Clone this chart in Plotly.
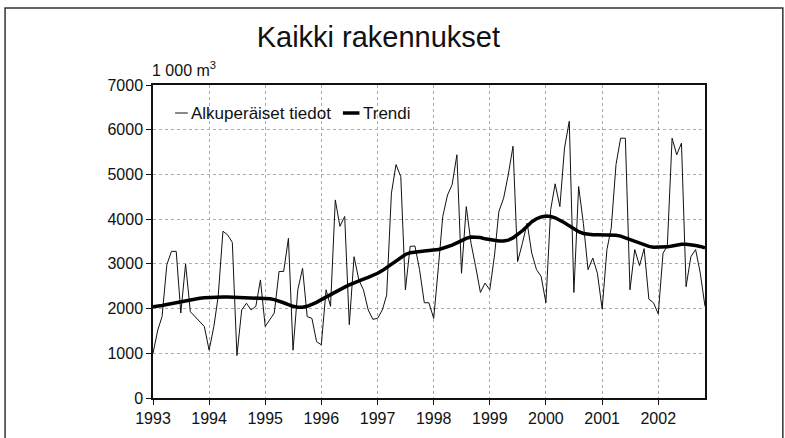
import pandas as pd
import plotly.graph_objects as go

years = [1993, 1994, 1995, 1996, 1997, 1998, 1999, 2000, 2001, 2002]

original_1993 = [1000, 1520, 1820, 2980, 3280, 3280, 1900, 3000, 1930, 1820, 1710, 1600]
original_1994 = [1070, 1600, 2270, 3730, 3650, 3480, 950, 1970, 2120, 1970, 2050, 2640]
original_1995 = [1600, 1750, 1900, 2830, 2830, 3570, 1070, 2420, 2900, 1820, 1780, 1260]
original_1996 = [1190, 2420, 2050, 4430, 3840, 4060, 1640, 3160, 2640, 2420, 1970, 1760]
original_1997 = [1780, 1970, 2300, 4580, 5220, 4950, 2420, 3390, 3400, 2870, 2130, 2130]
original_1998 = [1780, 2940, 4060, 4540, 4770, 5440, 2790, 4280, 3460, 2940, 2360, 2570]
original_1999 = [2420, 3200, 4170, 4470, 4990, 5630, 3050, 3460, 3910, 3240, 2870, 2720]
original_2000 = [2130, 4210, 4790, 4280, 5590, 6190, 2360, 4730, 3900, 2870, 3130, 2790]
original_2001 = [1990, 3320, 3800, 5220, 5810, 5810, 2420, 3320, 2960, 3340, 2210, 2130]
original_2002 = [1880, 3240, 3400, 5810, 5440, 5700, 2490, 3160, 3320, 2800, 2050]

trend_1993 = [2040, 2050, 2070, 2090, 2110, 2140, 2160, 2180, 2200, 2220, 2230, 2240]
trend_1994 = [2250, 2255, 2260, 2260, 2260, 2255, 2250, 2250, 2250, 2250, 2245, 2240]
trend_1995 = [2230, 2220, 2200, 2170, 2130, 2090, 2050, 2030, 2030, 2050, 2090, 2140]
trend_1996 = [2200, 2260, 2320, 2380, 2430, 2480, 2530, 2580, 2620, 2660, 2700, 2740]
trend_1997 = [2790, 2850, 2920, 3000, 3080, 3150, 3210, 3250, 3270, 3280, 3290, 3300]
trend_1998 = [3310, 3320, 3350, 3380, 3420, 3470, 3520, 3570, 3600, 3600, 3590, 3560]
trend_1999 = [3540, 3520, 3510, 3510, 3530, 3580, 3650, 3740, 3840, 3940, 4010, 4050]
trend_2000 = [4070, 4060, 4030, 3980, 3920, 3850, 3780, 3720, 3680, 3660, 3650, 3650]
trend_2001 = [3650, 3650, 3650, 3640, 3620, 3580, 3540, 3500, 3460, 3420, 3390, 3370]
trend_2002 = [3370, 3370, 3380, 3400, 3420, 3440, 3440, 3430, 3410, 3390, 3360]

original = (original_1993 + original_1994 + original_1995 + original_1996 + original_1997
            + original_1998 + original_1999 + original_2000 + original_2001 + original_2002)
trend = (trend_1993 + trend_1994 + trend_1995 + trend_1996 + trend_1997
         + trend_1998 + trend_1999 + trend_2000 + trend_2001 + trend_2002)

series_names = ["Alkuperäiset tiedot", "Trendi"]

months = pd.date_range("1993-01-01", periods=len(original), freq="MS")

FONT = "Liberation Sans, Arial, Helvetica, sans-serif"

fig = go.Figure()
fig.add_trace(go.Scatter(x=months, y=original, mode="lines",
                         name=series_names[0],
                         line=dict(color="#111111", width=1)))
fig.add_trace(go.Scatter(x=months, y=trend, mode="lines", name=series_names[1],
                         line=dict(color="#000000", width=3.5)))

legend_y = 0.9105
fig.update_layout(
    width=785, height=438,
    margin=dict(l=153, r=80, t=85, b=40),
    paper_bgcolor="white", plot_bgcolor="white",
    font=dict(family=FONT, size=16, color="#111111"),
    title=dict(text="Kaikki rakennukset", x=0.482, xanchor="center",
               y=0.915, yanchor="middle",
               font=dict(family=FONT, size=29, color="#111111")),
    showlegend=False,
    xaxis=dict(range=["1993-01-01", "2002-11-01"], tickformat="%Y", dtick="M12",
               tick0="1993-01-01",
               showgrid=True, gridcolor="#ababab", griddash="dot", gridwidth=1,
               showline=True, linecolor="#111111", linewidth=1.5, mirror=True,
               ticks="outside", ticklen=5, tickcolor="#111111",
               tickfont=dict(size=16), zeroline=False),
    yaxis=dict(range=[0, 7000], dtick=1000, tick0=0,
               showgrid=True, gridcolor="#ababab", griddash="dot", gridwidth=1,
               showline=True, linecolor="#111111", linewidth=1.5, mirror=True,
               ticks="outside", ticklen=5, tickcolor="#111111",
               tickfont=dict(size=16), zeroline=False),
    annotations=[
        dict(text="1 000 m<sup>3</sup>", xref="paper", yref="paper",
             x=0.0, y=1.0, xanchor="left", yanchor="bottom", yshift=4, xshift=-3,
             showarrow=False, font=dict(family=FONT, size=16)),
        dict(text=series_names[0], xref="paper", yref="paper",
             x=0.066, y=legend_y, xanchor="left", yanchor="middle",
             showarrow=False, font=dict(family=FONT, size=17)),
        dict(text=series_names[1], xref="paper", yref="paper",
             x=0.377, y=legend_y, xanchor="left", yanchor="middle",
             showarrow=False, font=dict(family=FONT, size=17)),
    ],
    shapes=[
        dict(type="rect", xref="paper", yref="paper",
             x0=-0.268, x1=1.141, y0=-0.2, y1=1.246,
             line=dict(color="#333333", width=1.5)),
        dict(type="line", xref="paper", yref="paper",
             x0=0.040, x1=0.063, y0=legend_y, y1=legend_y,
             line=dict(color="#111111", width=1)),
        dict(type="line", xref="paper", yref="paper",
             x0=0.344, x1=0.374, y0=legend_y, y1=legend_y,
             line=dict(color="#000000", width=3.5)),
    ],
)

fig.write_html("out.html", config={"displayModeBar": False},
               post_script="document.body.style.margin='0';document.body.style.overflow='hidden';")
